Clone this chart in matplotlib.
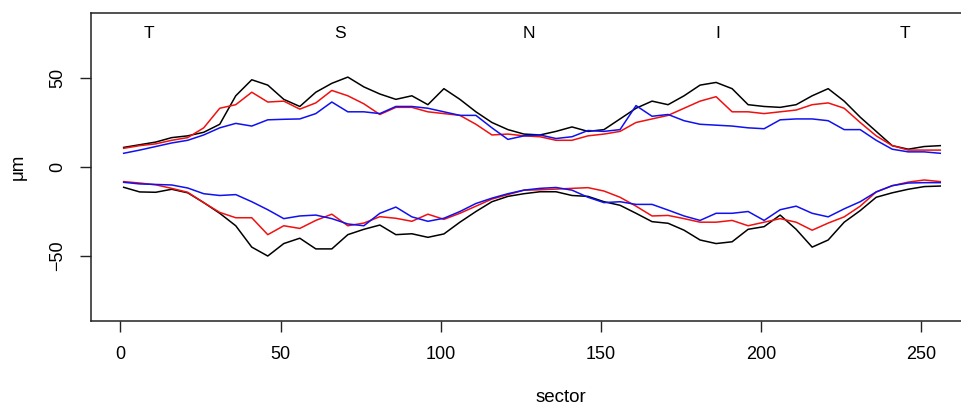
#!/usr/bin/env python3
"""TSNIT thickness profile: superior/inferior boundaries for three groups."""

import matplotlib

matplotlib.use("Agg")
import matplotlib.pyplot as plt

plt.rcParams["font.family"] = ["Liberation Sans", "DejaVu Sans"]

sector = list(range(1, 257, 5))

sup_black = [11, 12.5, 14, 16.5, 17.5, 19.5, 24, 40, 49, 46, 38, 34, 42, 47, 50.5, 45,
             41, 38, 40, 35, 44, 38, 31, 25, 21, 18.5, 18, 20, 22.5, 20, 21, 27,
             33, 37, 35, 40, 46, 47.5, 44, 35, 34, 33.5, 35, 40, 44, 37, 28, 20,
             12, 10, 11.5, 12]
sup_red = [10.5, 12, 13, 15, 16.5, 22, 33, 35, 42, 36.5, 37, 32.5, 36, 43, 40, 35.5,
           29.5, 33.5, 33.5, 31, 30, 29, 24, 18, 18.5, 17.5, 17, 15, 15, 17.5, 18.5, 20,
           25, 27, 29, 33, 37, 39.5, 31, 31, 30, 31, 32, 35, 36, 33, 25, 17.5,
           12, 9.5, 9.5, 9.5]
sup_blue = [7.7, 9.5, 11.5, 13.5, 15, 18, 22, 24.5, 23, 26.5, 26.8, 27, 30, 36.5, 31, 31,
            30, 34, 34, 33, 31, 29, 29, 22, 15.5, 17.5, 18, 16, 17, 20.5, 20, 21,
            34.5, 28.5, 29.5, 26, 24, 23.5, 23, 22, 21.5, 26.5, 27, 27, 26, 21, 21, 15,
            10, 8.5, 8.5, 7.7]

inf_black = [-11.4, -14, -14.2, -12.5, -14.5, -20, -26, -33, -45, -50, -43, -40, -46, -46,
             -38, -35, -32.6, -38, -37.5, -39.5, -37.6, -31, -25, -19.5, -16.5, -15,
             -13.9, -13.9, -16, -16.5, -19.5, -21.5, -26, -30.7, -31.6, -35.5, -41, -43,
             -42, -35, -33.5, -27, -35, -45, -41, -31, -24.5, -17, -14.5, -12.5, -11,
             -10.7]
inf_red = [-8.2, -9, -10, -12, -14.2, -20, -25.5, -28.5, -28.5, -38, -33, -34.5, -30,
           -26.5, -33, -31.5, -27.9, -28.8, -30.5, -26.5, -29.4, -26, -22, -18, -15.5,
           -13, -12.8, -12.4, -12, -11.6, -13.5, -17, -22, -27.5, -27.2, -29, -31, -31,
           -30, -33, -31, -29, -31, -35.5, -31.5, -28, -22, -14, -10.5, -8.5, -7.3, -8.2]
inf_blue = [-8.6, -9.5, -9.8, -10.1, -11.8, -15, -16, -15.5, -19.5, -24, -29, -27.5, -27,
            -29, -32, -33, -26, -22.5, -28, -30.5, -28.8, -25, -20.5, -17.5, -15, -13,
            -12, -11.5, -13, -17, -20, -19.5, -21, -21, -24.2, -27.5, -30, -26, -26, -25,
            -30, -24, -22, -26, -28, -23.5, -19.5, -14, -10.5, -9, -8.8, -8.8]

region_labels = ["T", "S", "N", "I", "T"]
region_pos = [9, 68.5, 127.5, 186.5, 245]


def main():
    fig = plt.figure(figsize=(9.61, 4.05), dpi=100)
    # the right edge of the plot box runs past the figure, as in the source
    ax = fig.add_axes([0.0947, 0.2074, 0.9177, 0.7605])

    series = [
        (sup_black, "black"), (sup_red, "#f01010"), (sup_blue, "#1010f0"),
        (inf_black, "black"), (inf_red, "#f01010"), (inf_blue, "#1010f0"),
    ]
    for values, color in series:
        ax.plot(sector, values, color=color, linewidth=1.1)

    for x, label in zip(region_pos, region_labels):
        ax.text(x, 75, label, ha="center", va="center", fontsize=12.5)

    ax.set_xlim(-9.2, 266.2)
    ax.set_ylim(-86.5, 86.5)
    ax.set_xticks([0, 50, 100, 150, 200, 250])
    ax.set_yticks([-50, 0, 50])
    ax.tick_params(length=8, width=1, pad=10, labelsize=13, color="#222222")
    for lab in ax.get_yticklabels():
        lab.set_rotation(90)
        lab.set_va("center")
    for side in ("top", "left", "bottom"):
        ax.spines[side].set_linewidth(1.1)
        ax.spines[side].set_color("#222222")
    ax.spines["right"].set_visible(False)

    fig.text(561 / 961, 8 / 405, "sector", ha="center", va="center", fontsize=13.5)
    fig.text(18 / 961, 1 - 167 / 405, "μm", ha="center", va="center", rotation=90, fontsize=13.5)

    fig.savefig("out.png", dpi=100)
    plt.close(fig)


if __name__ == "__main__":
    main()
